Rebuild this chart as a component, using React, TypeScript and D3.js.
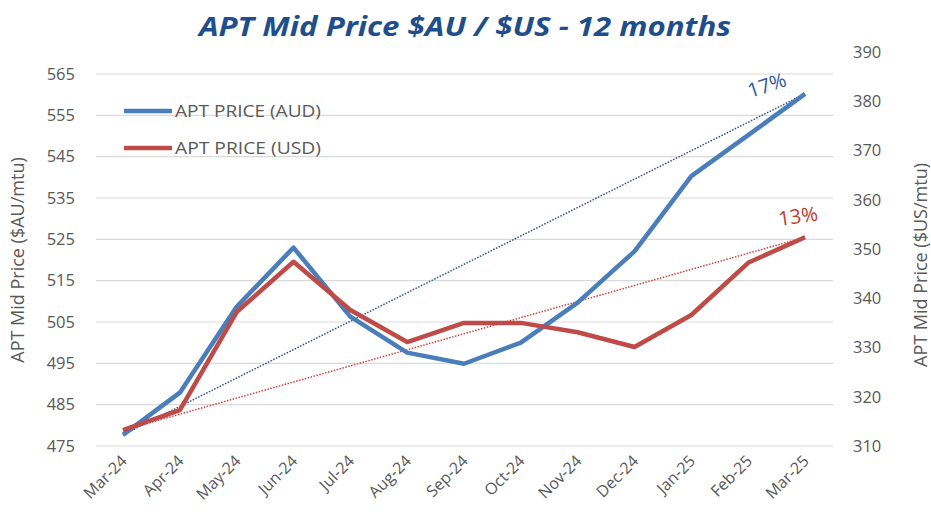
import React from 'react';
import * as d3 from 'd3';

const months = ['Mar-24', 'Apr-24', 'May-24', 'Jun-24', 'Jul-24', 'Aug-24', 'Sep-24', 'Oct-24', 'Nov-24', 'Dec-24', 'Jan-25', 'Feb-25', 'Mar-25'];
const audPrice = [477.7, 487.9, 508.7, 523.0, 506.3, 497.6, 494.9, 500.0, 509.7, 522.1, 540.3, 550.2, 560.2];
const usdPrice = [313.2, 317.3, 337.2, 347.4, 337.6, 331.1, 335.0, 335.0, 333.1, 330.1, 336.6, 347.2, 352.4];
const leftTicks = [475, 485, 495, 505, 515, 525, 535, 545, 555, 565];
const rightTicks = [310, 320, 330, 340, 350, 360, 370, 380, 390];

const BLUE = '#4a7ebb';
const RED = '#be4b48';
const GRID = '#d9d9d9';
const LABEL = '#595959';
const FONT = '"Open Sans", Lato, sans-serif';

const width = 931;
const height = 522;

export default function App() {
  const x = d3.scalePoint<string>().domain(months).range([123, 805]);
  const yL = d3.scaleLinear().domain([475, 565]).range([446, 74]);
  const yR = d3.scaleLinear().domain([310, 390]).range([446, 52]);

  const audLine = d3.line<number>().x((_, i) => x(months[i])!).y(d => yL(d));
  const usdLine = d3.line<number>().x((_, i) => x(months[i])!).y(d => yR(d));

  const first = months[0];
  const last = months[months.length - 1];
  const audChange = Math.round((audPrice[audPrice.length - 1] / audPrice[0] - 1) * 100);
  const usdChange = Math.round((usdPrice[usdPrice.length - 1] / usdPrice[0] - 1) * 100);

  return (
    <svg width={width} height={height} style={{ position: 'absolute', left: 0, top: 0, background: '#fff' }} fontFamily={FONT}>
      <rect width={width} height={height} fill="#fff" />

      {/* title */}
      <text x={465} y={36} textAnchor="middle" fontSize={26} fontWeight="bold" fontStyle="italic" fill="#1f4e8c"
        textLength={532} lengthAdjust="spacingAndGlyphs">
        APT Mid Price $AU / $US - 12 months
      </text>

      {/* gridlines + left axis */}
      {leftTicks.map(t => (
        <g key={t}>
          <line x1={96} x2={833} y1={yL(t)} y2={yL(t)} stroke={GRID} strokeWidth={1.2} />
          <text x={75} y={yL(t)} dy="0.35em" textAnchor="end" fontSize={16.5} fill={LABEL}>{t}</text>
        </g>
      ))}

      {/* right axis */}
      {rightTicks.map(t => (
        <text key={t} x={853} y={yR(t)} dy="0.35em" fontSize={16.5} fill={LABEL}>{t}</text>
      ))}

      {/* axis titles */}
      <text transform="translate(24,260) rotate(-90)" textAnchor="middle" fontSize={18} fill={LABEL}>APT Mid Price ($AU/mtu)</text>
      <text transform="translate(927,265) rotate(-90)" textAnchor="middle" fontSize={18} fill={LABEL}>APT Mid Price ($US/mtu)</text>

      {/* x labels */}
      {months.map(m => (
        <text key={m} transform={`translate(${x(m)! + 5},462) rotate(-45)`} textAnchor="end" fontSize={16} fill={LABEL}>{m}</text>
      ))}

      {/* trend lines between first and last month */}
      <line x1={x(first)} y1={yL(audPrice[0])} x2={x(last)} y2={yL(audPrice[audPrice.length - 1])}
        stroke="#2f4f8f" strokeWidth={1.5} strokeDasharray="1.5 1.5" />
      <line x1={x(first)} y1={yR(usdPrice[0])} x2={x(last)} y2={yR(usdPrice[usdPrice.length - 1])}
        stroke="#d0413b" strokeWidth={1.5} strokeDasharray="1.5 1.5" />

      {/* series */}
      <path d={audLine(audPrice)!} fill="none" stroke={BLUE} strokeWidth={4.5} strokeLinejoin="round" />
      <path d={usdLine(usdPrice)!} fill="none" stroke={RED} strokeWidth={4.5} strokeLinejoin="round" />

      {/* change labels */}
      <text transform={`translate(${x(last)! - 36},${yL(audPrice[audPrice.length - 1]) - 2}) rotate(-18)`} textAnchor="middle" fontSize={20} fill="#2e5a9a">{audChange}%</text>
      <text transform={`translate(${x(last)! - 6},${yR(usdPrice[usdPrice.length - 1]) - 14}) rotate(-8)`} textAnchor="middle" fontSize={20} fill="#c0392b">{usdChange}%</text>

      {/* legend */}
      <line x1={124} x2={172} y1={111} y2={111} stroke={BLUE} strokeWidth={4.5} />
      <text x={175} y={111} dy="0.35em" fontSize={16} fill={LABEL} textLength={146} lengthAdjust="spacingAndGlyphs">APT PRICE (AUD)</text>
      <line x1={124} x2={172} y1={148} y2={148} stroke={RED} strokeWidth={4.5} />
      <text x={175} y={148} dy="0.35em" fontSize={16} fill={LABEL} textLength={146} lengthAdjust="spacingAndGlyphs">APT PRICE (USD)</text>
    </svg>
  );
}
